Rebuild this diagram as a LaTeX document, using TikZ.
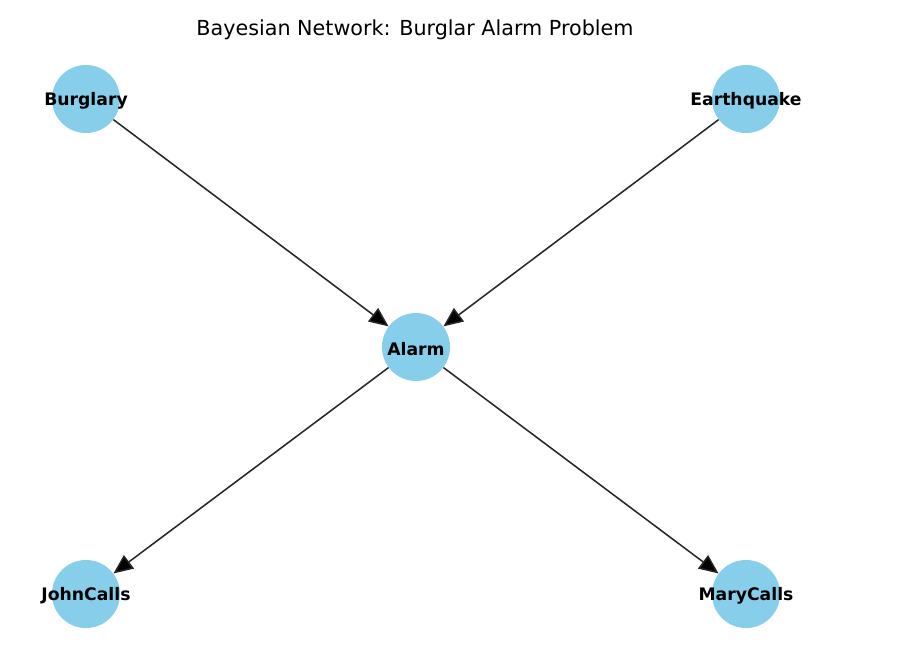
\documentclass[tikz,border=0pt]{standalone}
\usepackage{fontspec}
\setmainfont{DejaVu Sans}
\usetikzlibrary{arrows.meta}
\definecolor{skyblue}{HTML}{87CEEB}
\begin{document}
\begin{tikzpicture}[x=0.72pt,y=-0.72pt,
  bn/.style={circle,fill=skyblue,minimum size=49pt,inner sep=0pt},
  lbl/.style={font=\fontsize{12.4}{14}\selectfont\bfseries,inner sep=0pt,yshift=-1.4pt},
  edge/.style={draw=black!85,line width=1.1pt,-{Triangle[length=14pt,width=12pt,fill=black]}}]
\useasboundingbox (0,0) rectangle (912,652);
\node[font=\fontsize{14.9}{17}\selectfont] (title) at (415,30) {Bayesian Network: Burglar Alarm Problem};
\node[bn,label={[lbl]center:Burglary}] (B) at (86,99) {};
\node[bn,label={[lbl]center:Earthquake}] (E) at (746,99) {};
\node[bn,label={[lbl]center:Alarm}] (A) at (416,347) {};
\node[bn,label={[lbl]center:JohnCalls}] (J) at (86,594) {};
\node[bn,label={[lbl]center:MaryCalls}] (M) at (746,594) {};
\draw[edge] (B) -- (A);
\draw[edge] (E) -- (A);
\draw[edge] (A) -- (J);
\draw[edge] (A) -- (M);
\end{tikzpicture}
\end{document}
